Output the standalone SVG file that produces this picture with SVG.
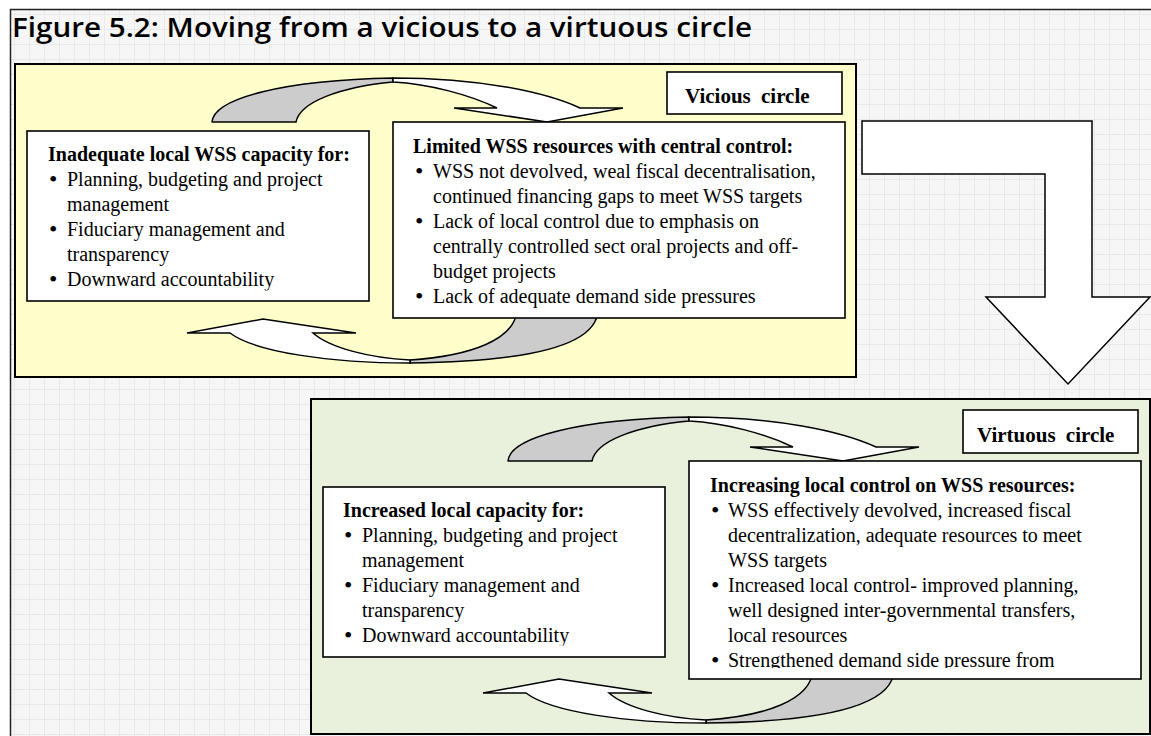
<svg xmlns="http://www.w3.org/2000/svg" width="1151" height="736" viewBox="0 0 1151 736">
<defs>
<pattern id="grid" width="15" height="15" patternUnits="userSpaceOnUse">
<rect width="15" height="15" fill="#f6f6f6"/>
<path d="M14.5 0V15M0 14.5H15" stroke="#e9e9e9" stroke-width="1" fill="none"/>
</pattern>
<clipPath id="clipA"><rect x="27" y="131" width="342" height="159.5"/></clipPath>
<clipPath id="clipC"><rect x="323" y="487" width="342" height="158.5"/></clipPath>
<clipPath id="clipD"><rect x="689" y="461" width="452" height="207"/></clipPath>
</defs>
<style>
.panelY{fill:#ffffcc;stroke:#000;stroke-width:2}
.panelG{fill:#e9f0dc;stroke:#000;stroke-width:2}
.box{fill:#fff;stroke:#000;stroke-width:1.6}
.t{font-family:"Liberation Serif","Times New Roman",serif;font-size:20px;fill:#000}
.b{font-weight:bold}
.bl{font-family:"Liberation Serif","Times New Roman",serif;font-size:24px;fill:#000}
.lbl{font-family:"Liberation Serif","Times New Roman",serif;font-size:21px;font-weight:bold;word-spacing:5px;fill:#000}
.title{font-family:"Open Sans","Noto Sans",sans-serif;font-size:27px;font-weight:600;fill:#000}
.back{fill:#cccccc;stroke:#000;stroke-width:1.5;stroke-linejoin:round}
.front{fill:#fff;stroke:#000;stroke-width:1.5;stroke-linejoin:miter}
.frame{stroke:#222;stroke-width:1.5;fill:none}
</style>
<rect x="0" y="0" width="1151" height="736" fill="#ffffff"/>
<rect x="10" y="9" width="1141" height="727" fill="url(#grid)"/>
<path class="frame" d="M10.5 736V9.5H1151"/>
<text class="title" x="12" y="37" textLength="740" lengthAdjust="spacingAndGlyphs">Figure 5.2: Moving from a vicious to a virtuous circle</text>

<g id="panel-vicious">
<rect class="panelY" x="15" y="64" width="841" height="313"/>
</g>
<g id="panel-virtuous">
<rect class="panelG" x="311" y="399" width="839" height="335"/>
</g>

<g id="connectors">
<g id="vicious-top-arrow">
<path class="back" d="M212,122 C214,98 285,80 393,78 L393,82 C340,87 300,102 296,122 Z"/>
<path class="front" d="M393,78 C480,78 545,92 580,108 L623,108 L547,122 L454,108 L497,108 C470,95 430,84 393,82 Z"/>
</g>
<g id="vicious-bottom-arrow">
<path class="back" d="M517,310 C515,340 470,356 410,360 L410,363 C510,362 597,350 598,310 Z"/>
<path class="front" d="M410,363 C330,363 255,352 230,333 L187,333 L263,319 L356,333 L313,333 C330,348 370,358 410,360 Z"/>
</g>
<g id="virtuous-top-arrow" transform="translate(296,339)">
<path class="back" d="M212,122 C214,98 285,80 393,78 L393,82 C340,87 300,102 296,122 Z"/>
<path class="front" d="M393,78 C480,78 545,92 580,108 L623,108 L547,122 L454,108 L497,108 C470,95 430,84 393,82 Z"/>
</g>
<g id="virtuous-bottom-arrow" transform="translate(296,360)">
<path class="back" d="M517,310 C515,340 470,356 410,360 L410,363 C510,362 597,350 598,310 Z"/>
<path class="front" d="M410,363 C330,363 255,352 230,333 L187,333 L263,319 L356,333 L313,333 C330,348 370,358 410,360 Z"/>
</g>
<g id="transition-arrow">
<polygon class="front" points="862,121 1092,121 1092,297 1150,297 1068,384 986,297 1045,297 1045,174 862,174"/>
</g>
</g>

<g id="label-vicious">
<rect class="box" x="667" y="72" width="175" height="42"/>
<text class="lbl" x="685" y="103">Vicious circle</text>
</g>

<g id="box-inadequate">
<rect class="box" x="27" y="131" width="342" height="170"/>
<g clip-path="url(#clipA)">
<text class="t b" x="48" y="161">Inadequate local WSS capacity for:</text>
<text class="bl" x="49" y="187">•</text><text class="t" x="67" y="186">Planning, budgeting and project</text>
<text class="t" x="67" y="211">management</text>
<text class="bl" x="49" y="237">•</text><text class="t" x="67" y="236">Fiduciary management and</text>
<text class="t" x="67" y="261">transparency</text>
<text class="bl" x="49" y="287">•</text><text class="t" x="67" y="286">Downward accountability</text>
</g>
</g>

<g id="box-limited">
<rect class="box" x="393" y="122" width="452" height="196"/>
<text class="t b" x="413" y="153">Limited WSS resources with central control:</text>
<text class="bl" x="415" y="179">•</text><text class="t" x="433" y="178">WSS not devolved, weal fiscal decentralisation,</text>
<text class="t" x="433" y="203">continued financing gaps to meet WSS targets</text>
<text class="bl" x="415" y="229">•</text><text class="t" x="433" y="228">Lack of local control due to emphasis on</text>
<text class="t" x="433" y="253">centrally controlled sect oral projects and off-</text>
<text class="t" x="433" y="278">budget projects</text>
<text class="bl" x="415" y="304">•</text><text class="t" x="433" y="303">Lack of adequate demand side pressures</text>
</g>

<g id="label-virtuous">
<rect class="box" x="963" y="410" width="175" height="43"/>
<text class="lbl" x="977" y="442">Virtuous circle</text>
</g>

<g id="box-increased">
<rect class="box" x="323" y="487" width="342" height="170"/>
<g clip-path="url(#clipC)">
<text class="t b" x="343" y="517">Increased local capacity for:</text>
<text class="bl" x="344" y="543">•</text><text class="t" x="362" y="542">Planning, budgeting and project</text>
<text class="t" x="362" y="567">management</text>
<text class="bl" x="344" y="593">•</text><text class="t" x="362" y="592">Fiduciary management and</text>
<text class="t" x="362" y="617">transparency</text>
<text class="bl" x="344" y="643">•</text><text class="t" x="362" y="642">Downward accountability</text>
</g>
</g>

<g id="box-increasing">
<rect class="box" x="689" y="461" width="452" height="218"/>
<g clip-path="url(#clipD)">
<text class="t b" x="710" y="492">Increasing local control on WSS resources:</text>
<text class="bl" x="711" y="518">•</text><text class="t" x="728" y="517">WSS effectively devolved, increased fiscal</text>
<text class="t" x="728" y="542">decentralization, adequate resources to meet</text>
<text class="t" x="728" y="567">WSS targets</text>
<text class="bl" x="711" y="593">•</text><text class="t" x="728" y="592">Increased local control- improved planning,</text>
<text class="t" x="728" y="617">well designed inter-governmental transfers,</text>
<text class="t" x="728" y="642">local resources</text>
<text class="bl" x="711" y="668">•</text><text class="t" x="728" y="667">Strengthened demand side pressure from</text>
</g>
</g>
</svg>
